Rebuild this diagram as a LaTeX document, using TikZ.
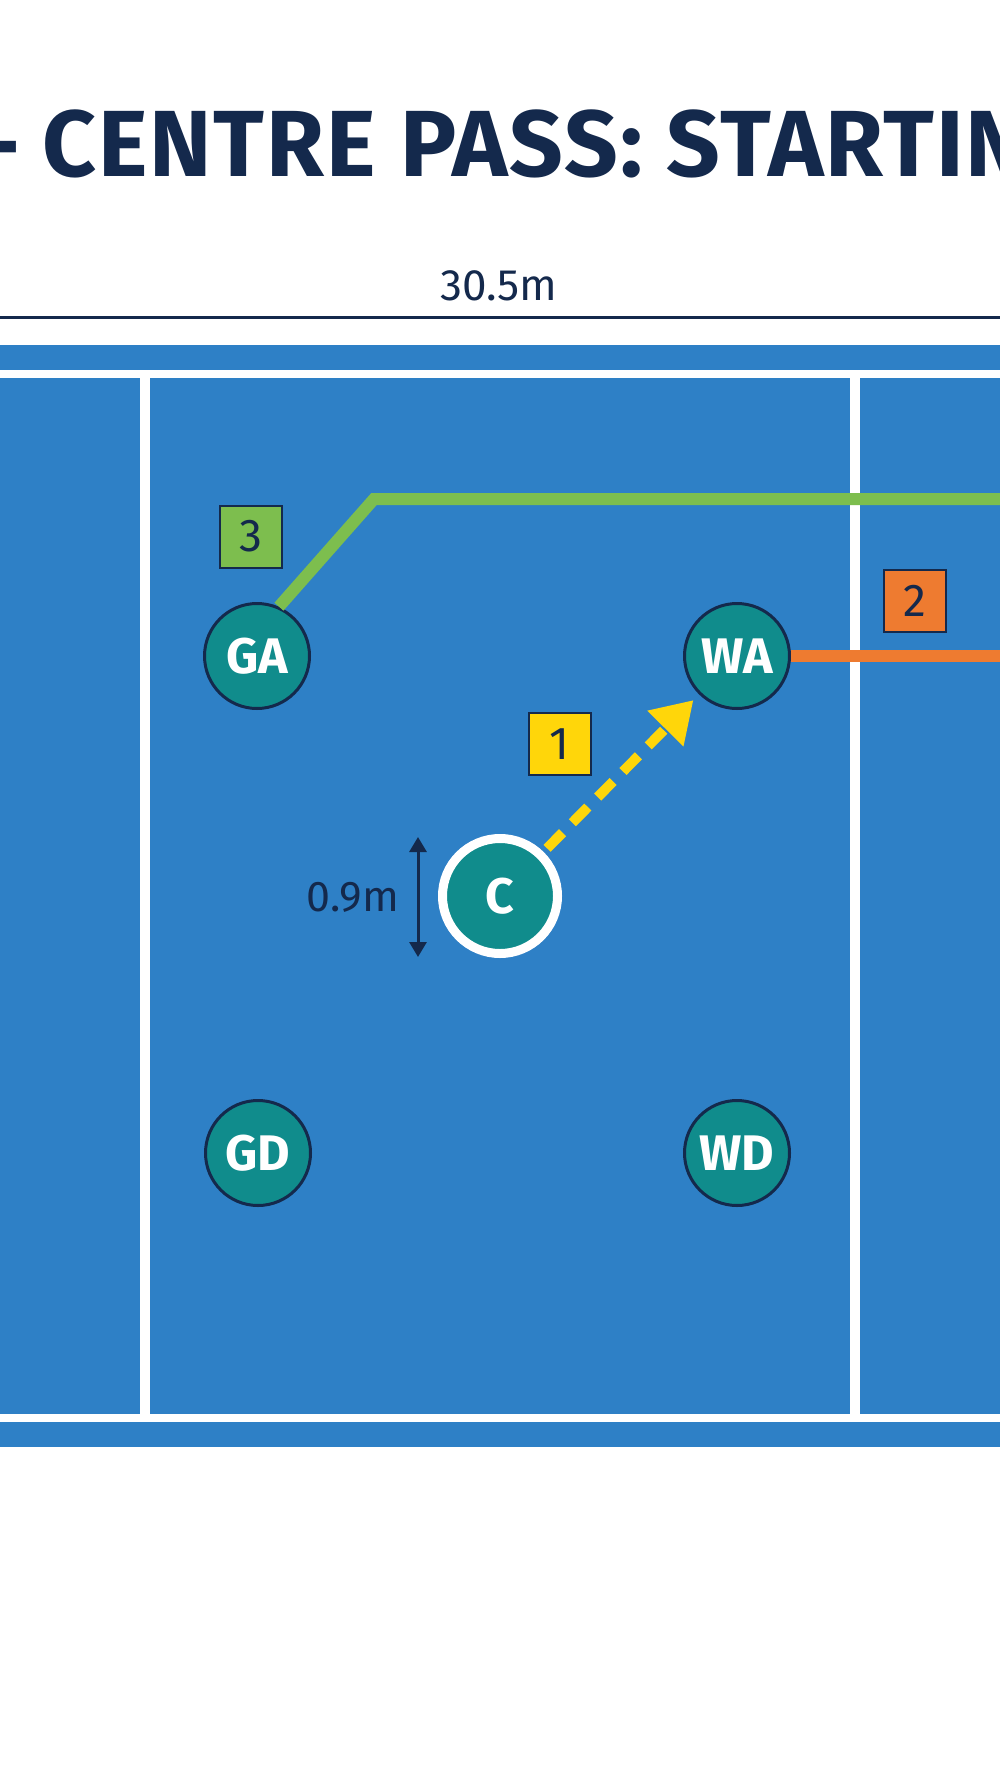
\documentclass[tikz,border=0pt]{standalone}
\usepackage{fontspec}
\setmainfont{Fira Sans}
\newfontfamily\headfont{Fira Sans}[LetterSpace = 2]
\usetikzlibrary{arrows.meta}
\definecolor{court}{HTML}{2E80C6}
\definecolor{navy}{HTML}{14294C}
\definecolor{teal}{HTML}{108C8C}
\definecolor{passyellow}{HTML}{FFD60A}
\definecolor{runorange}{HTML}{EE7B30}
\definecolor{rungreen}{HTML}{7DBE4E}
\begin{document}
\begin{tikzpicture}[x = 0.5pt, y = -0.5pt,
		player/.style = {circle, draw = navy, line width = 1.5pt, fill = teal, text = white, minimum size = 52.5pt, inner sep = 0pt, font = \fontsize{25}{25}\selectfont\bfseries},
		tag/.style = {draw = navy, line width = 1pt, minimum size = 31pt, inner sep = 0pt, text = navy, font = \fontsize{23}{23}\selectfont},
		run/.style = {line width = 6pt}]
	\useasboundingbox (0, 0) rectangle (1000, 1792);
	\fill[white] (0, 0) rectangle (1000, 1792);
	% title and length
	\node[anchor = base west, inner sep = 0pt, text = navy, font = \headfont\fontsize{47}{47}\selectfont\bfseries] (title) at (-31, 177) {– CENTRE PASS: STARTIN};
	\node[text = navy, inner sep = 0pt, font = \fontsize{22}{22}\selectfont] (length) at (499, 286) {30.5m};
	\draw[navy, line width = 1.5pt] (-5, 318) -- (1005, 318);
	% court
	\fill[court] (0, 345) rectangle (1000, 1447);
	\foreach \y in {374, 1418}
		\draw[white, line width = 4.25pt] (-5, \y) -- (1005, \y);
	\foreach \x in {144.5, 855}
		\draw[white, line width = 5pt] (\x, 374) -- (\x, 1418);
	% players
	\node[player] (GA) at (257, 656) {GA};
	\node[player] (WA) at (737, 656) {WA};
	\node[player] (GD) at (258, 1153) {GD};
	\node[player] (WD) at (737, 1153) {WD};
	\node[player, draw = white, line width = 4.5pt, minimum size = 57.5pt] (C) at (500, 896) {C};
	% runs
	\coordinate (bend3) at (374, 499);
	\coordinate (end3) at (1010, 499);
	\coordinate (end2) at (1010, 656);
	\draw[run, rungreen] (GA.66) -- (bend3) -- (end3);
	\draw[run, runorange] (WA) -- (end2);
	\draw[passyellow, line width = 5pt, dash pattern = on 11pt off 7pt, shorten <= 2.5pt, shorten >= 4pt, -{Triangle[length = 20pt, width = 24pt]}] (C) -- (WA);
	% order tags
	\node[tag, fill = passyellow] (tag1) at (559.5, 744) {1};
	\node[tag, fill = runorange] (tag2) at (915, 601) {2};
	\node[tag, fill = rungreen] (tag3) at (251, 536.5) {3};
	% restraining distance
	\coordinate (dimtop) at (418, 837);
	\coordinate (dimbot) at (418, 957);
	\draw[navy, line width = 1.5pt, {Triangle[length = 7.5pt, width = 8.5pt]}-{Triangle[length = 7.5pt, width = 8.5pt]}] (dimtop) -- (dimbot);
	\node[text = navy, inner sep = 0pt, font = \fontsize{21.5}{21.5}\selectfont] (gap) at (353, 897) {0.9m};
\end{tikzpicture}
\end{document}
